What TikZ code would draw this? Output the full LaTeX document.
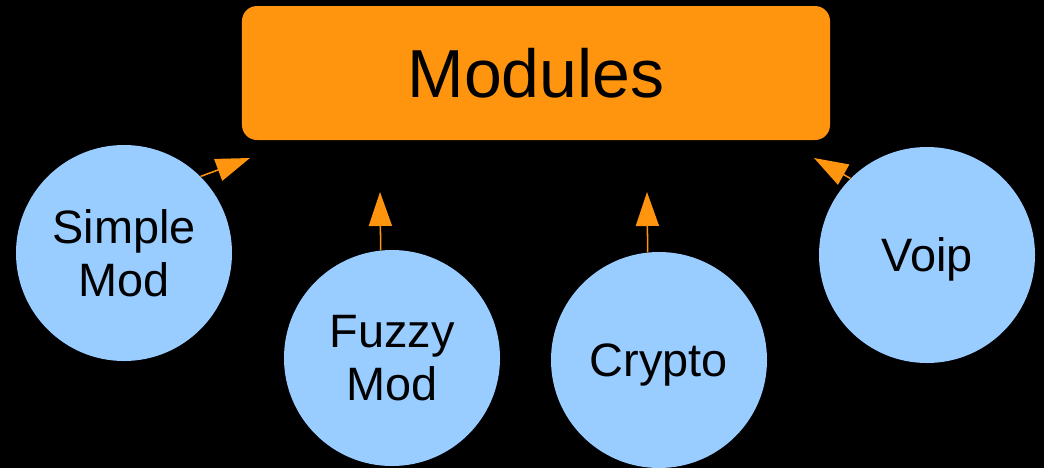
\documentclass[tikz,border=0pt]{standalone}
\usepackage{fontspec}
\setmainfont{Liberation Sans}
\usetikzlibrary{arrows.meta,shapes,calc}
\definecolor{modorange}{RGB}{255,149,14}
\definecolor{modblue}{RGB}{153,204,255}

\begin{document}
\begin{tikzpicture}[x=0.03cm,y=-0.03cm]
	\tikzstyle{every node}=[font=\fontsize{40}{45}\selectfont]
	\tikzstyle{module}=[circle, fill=modblue, minimum size=6.48cm, inner sep=0pt, align=center]
	\tikzstyle{uses}=[line width=1.3pt, modorange, -{Triangle[length=1.02cm,width=0.69cm]}]
	\fill [black] (0,0) rectangle (1044,468);
	\useasboundingbox (0,0) rectangle (1044,468);
	% the core box
	\node [fill=modorange, rounded corners=0.45cm, minimum width=17.64cm, minimum height=4.02cm, font=\fontsize{58}{60}\selectfont] (modules) at (536,73) {Modules};
	% the modules around it
	\node [module] (simple) at (124,253) {Simple\\Mod};
	\node [module] (fuzzy) at (392,358) {Fuzzy\\Mod};
	\node [module, text depth=0pt] (crypto) at (659,360) {Crypto};
	\node [module, text depth=0pt] (voip) at (927,255) {Voip};
	% arrow tips stop short of the box
	\coordinate (tipsimple) at (250,158);
	\coordinate (tipfuzzy) at (380,192);
	\coordinate (tipcrypto) at (647,192);
	\coordinate (tipvoip) at (814,158);
	\draw [uses] (simple.45) -- (tipsimple);
	\draw [uses] (fuzzy.96) -- (tipfuzzy);
	\draw [uses] (crypto.96) -- (tipcrypto);
	\draw [uses] (voip.135) -- (tipvoip);
\end{tikzpicture}
\end{document}
